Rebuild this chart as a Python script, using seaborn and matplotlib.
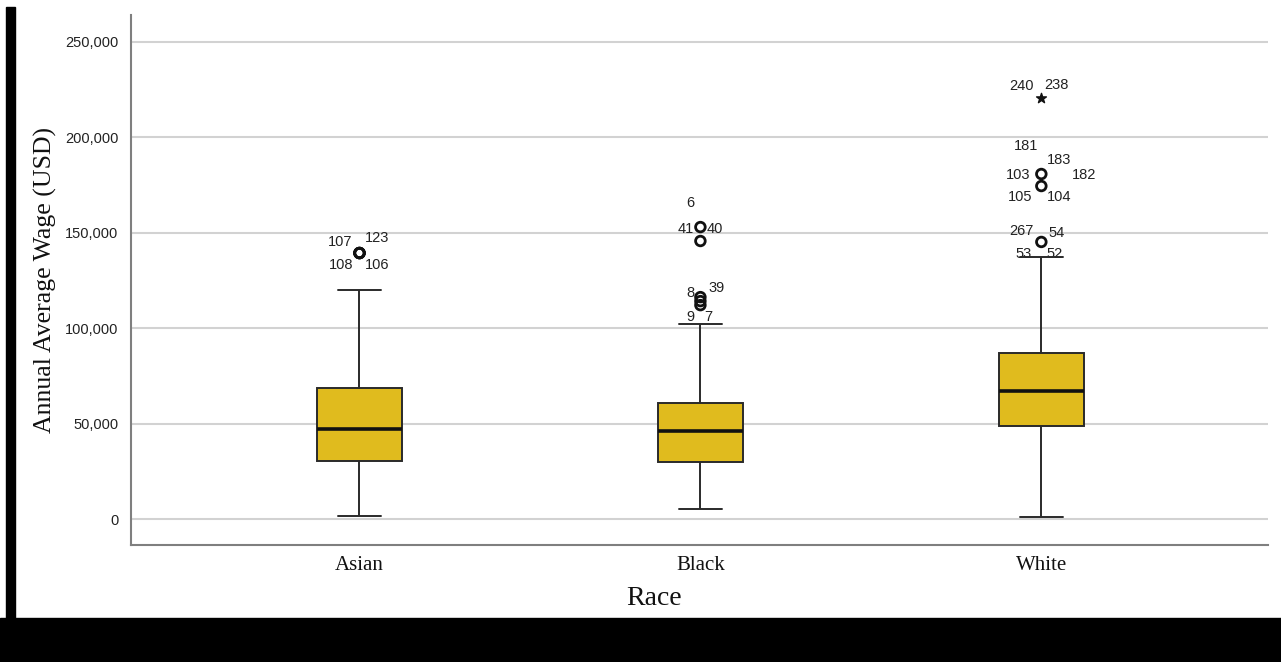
import matplotlib
matplotlib.use("Agg")
import matplotlib.pyplot as plt
from matplotlib.patches import Rectangle
from matplotlib.ticker import FuncFormatter
import seaborn as sns
import pandas as pd

# Five-number summaries per group: lower whisker, Q1, median, Q3, upper whisker
races = ["Asian", "Black", "White"]
asian_summary = [1600, 30400, 47200, 68700, 120000]
black_summary = [5200, 29900, 46100, 60800, 102200]
white_summary = [1000, 48700, 67100, 87000, 137300]

# Outlying cases (circles) and extreme cases (stars)
asian_outliers = [139400, 139400, 139400, 139400]
black_outliers = [153000, 145700, 116300, 114200, 112100]
white_outliers = [180800, 174500, 145200]
white_extremes = [220600]

# Case labels around each outlying point: (group, value, label, dx, dy) in pixels
case_labels = [
    ("Asian", 139400, "107", -19, 11), ("Asian", 139400, "123", 18, 15),
    ("Asian", 139400, "108", -18, -12), ("Asian", 139400, "106", 18, -12),
    ("Black", 153000, "6", -10, 24), ("Black", 153000, "41", -15, -2),
    ("Black", 153000, "40", 14, -2),
    ("Black", 114200, "8", -10, 8), ("Black", 114200, "39", 16, 13),
    ("Black", 114200, "9", -10, -16), ("Black", 114200, "7", 8, -16),
    ("White", 220600, "240", -20, 12), ("White", 220600, "238", 15, 13),
    ("White", 180800, "181", -15, 28), ("White", 180800, "183", 18, 14),
    ("White", 180800, "103", -23, -1), ("White", 180800, "182", 43, -1),
    ("White", 174500, "105", -21, -11), ("White", 174500, "104", 18, -11),
    ("White", 145200, "267", -20, 11), ("White", 145200, "54", 15, 9),
    ("White", 145200, "53", -18, -12), ("White", 145200, "52", 13, -12),
]

y_ticks = [0, 50000, 100000, 150000, 200000, 250000]

summaries = {"Asian": asian_summary, "Black": black_summary, "White": white_summary}
df = pd.DataFrame(
    [(r, v) for r in races for v in summaries[r]], columns=["Race", "Wage"]
)
pos = {r: i for i, r in enumerate(races)}

sns.set_theme(style="white")
fig = plt.figure(figsize=(12.81, 6.62), dpi=100)
ax = fig.add_axes([0.1023, 0.1767, 0.8876, 0.8006])

box_color = "#E0BB1E"
edge = "#2a2a2a"
sns.boxplot(
    data=df, x="Race", y="Wage", order=races, whis=(0, 100), width=0.25,
    color=box_color, linecolor=edge, linewidth=1.4, saturation=1,
    medianprops=dict(color="#111111", linewidth=2.6),
    ax=ax, zorder=3,
)

# Outliers as open circles, extremes as stars
for race, vals in (("Asian", asian_outliers), ("Black", black_outliers),
                   ("White", white_outliers)):
    ax.scatter([pos[race]] * len(vals), vals, s=48, facecolors="none",
               edgecolors="#111111", linewidths=2.0, zorder=4)
ax.scatter([pos["White"]] * len(white_extremes), white_extremes, marker="*",
           s=55, color="#111111", zorder=4)

for race, val, lab, dx, dy in case_labels:
    ax.annotate(lab, (pos[race], val), xytext=(dx, dy),
                textcoords="offset pixels", ha="center", va="center",
                fontsize=10.5, family="Liberation Sans", color="#222222",
                zorder=2)

ax.set_xlim(-0.67, 2.665)
ax.set_ylim(-13600, 264100)
ax.set_yticks(y_ticks)
ax.yaxis.set_major_formatter(FuncFormatter(lambda v, p: f"{int(v):,}"))
ax.grid(axis="y", color="#d2d2d2", linewidth=1.5, zorder=0)
ax.set_axisbelow(True)

for s in ("top", "right"):
    ax.spines[s].set_visible(False)
for s in ("left", "bottom"):
    ax.spines[s].set_color("#7f7f7f")
    ax.spines[s].set_linewidth(1.5)

ax.tick_params(axis="y", length=0, pad=9, labelsize=10.5, labelcolor="#222222")
ax.tick_params(axis="x", length=0, pad=8, labelsize=15, labelcolor="#111111")
for t in ax.get_yticklabels():
    t.set_family("Liberation Sans")
for t in ax.get_xticklabels():
    t.set_family("Liberation Serif")

ax.set_ylabel("Annual Average Wage (USD)", family="Liberation Serif",
              fontsize=18.5, color="#111111")
ax.set_xlabel("Race", family="Liberation Serif", fontsize=20, color="#111111")
ax.yaxis.set_label_coords(-0.0655, 0.5)
ax.xaxis.set_label_coords(0.46, -0.077)

# Dark frame strips along the left and bottom edges
W, H = 1281, 662
fig.patches.append(Rectangle((6 / W, 44 / H), 9 / W, (655 - 44) / H,
                             transform=fig.transFigure, color="black", zorder=10))
fig.patches.append(Rectangle((0, 0), 1, 44 / H, transform=fig.transFigure,
                             color="black", zorder=10))

fig.savefig("out.png", dpi=100, facecolor="white")
